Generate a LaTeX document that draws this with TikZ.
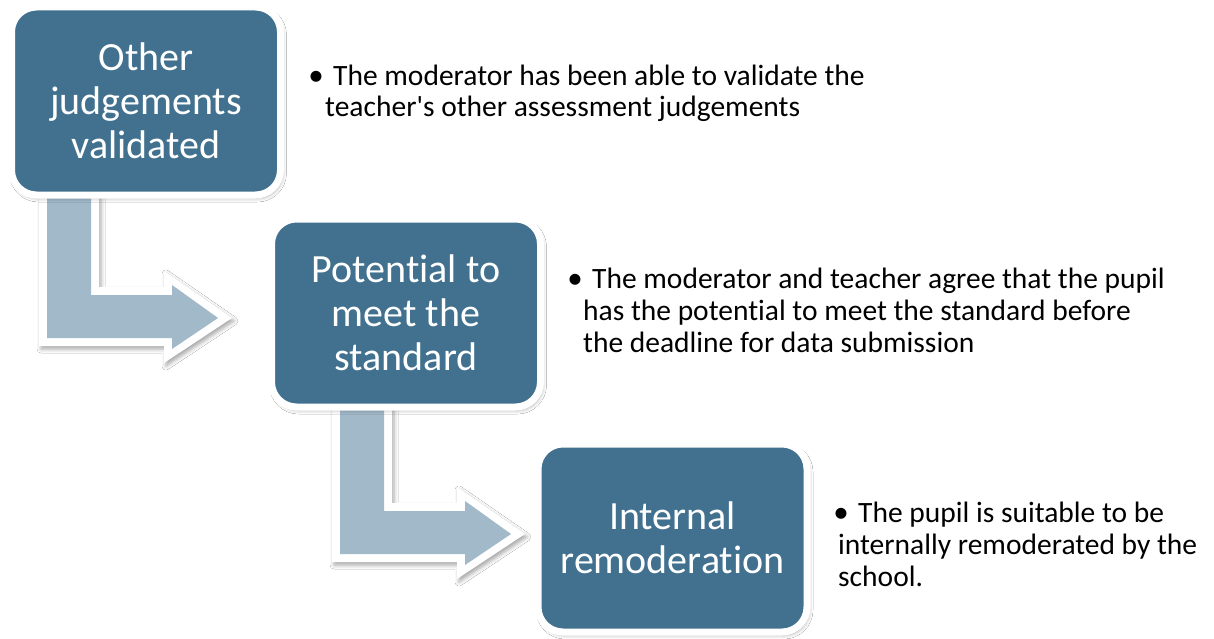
\documentclass[tikz,border=0pt]{standalone}
\usepackage{fontspec}
\setmainfont{Carlito}[Ligatures={NoCommon}]
\usetikzlibrary{shadows.blur}
\definecolor{boxblue}{HTML}{41718F}
\definecolor{arrowblue}{HTML}{A2B9C9}
\tikzset{
  softshadow/.style={blur shadow={shadow xshift=2pt, shadow yshift=-3pt,
      shadow blur radius=4pt, shadow opacity=35}},
  card/.style={fill=boxblue, draw=white, line width=7pt, rounded corners=25pt,
      minimum width=269pt, minimum height=188pt, text=white, align=center,
      inner sep=0pt, font=\fontsize{40}{44}\selectfont, softshadow},
  note/.style={inner sep=0pt, anchor=base west, text=black,
      font=\fontsize{29.5}{32}\selectfont},
  dot/.style={inner sep=0pt, anchor=base, text=black,
      font=\fontsize{31}{32}\selectfont},
  % bent arrow: white outline with shadow, light blue body on top
  bentarrow/.pic={
    \path[fill=white, softshadow]
      (39,180) -- (99,180) -- (99,287) -- (164,287) -- (164,271)
      -- (232,318) -- (164,363) -- (164,346) -- (39,346) -- cycle;
    \fill[arrowblue]
      (47,180) -- (91,180) -- (91,295) -- (172,295) -- (172,285)
      -- (218,318) -- (172,349) -- (172,338) -- (47,338) -- cycle;
  }
}
\begin{document}
\begin{tikzpicture}[x=1pt,y=-1pt]
\useasboundingbox[fill=white] (0,0) rectangle (1214,639);

% connecting arrows, drawn first so the cards sit on top
\pic (arrowA) at (0,0) {bentarrow};
\pic (arrowB) at (293,216) {bentarrow};

% stage cards
\node[card] (c1) at (146,101) {Other\\judgements\\validated};
\node[card] (c2) at (406,313) {Potential to\\meet the\\standard};
\node[card] (c3) at (672.5,538) {Internal\\remoderation};

% descriptions
\node[dot] (b1) at (316,86) {\textbullet};
\node[note] (n1a) at (333,86) {The moderator has been able to validate the};
\node[note] (n1b) at (325,117) {teacher\textquotesingle s other assessment judgements};

\node[dot] (b2) at (575,288) {\textbullet};
\node[note] (n2a) at (592,288) {The moderator and teacher agree that the pupil};
\node[note] (n2b) at (583,320) {has the potential to meet the standard before};
\node[note] (n2c) at (583,352) {the deadline for data submission};

\node[dot] (b3) at (841,522) {\textbullet};
\node[note] (n3a) at (858,522) {The pupil is suitable to be};
\node[note] (n3b) at (838,554) {internally remoderated by the};
\node[note] (n3c) at (838,586) {school.};
\end{tikzpicture}
\end{document}
